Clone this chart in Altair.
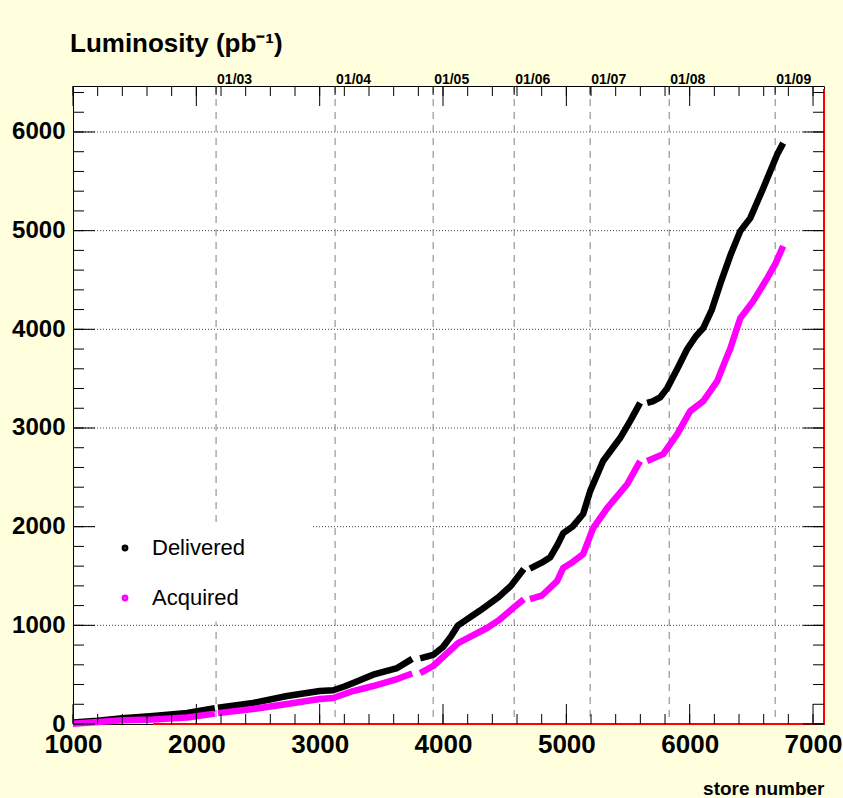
import altair as alt
import pandas as pd

# ---------------- data ----------------
deliv_store = [1000, 1200, 1400, 1650, 1925, 2150,
               2175, 2460, 2736, 3000, 3110, 3200, 3271, 3433, 3628, 3750,
               3815, 3920, 4000, 4060, 4122, 4300, 4450, 4550, 4655,
               4705, 4800, 4870, 4930, 4975, 5050, 5136, 5193, 5298, 5436, 5517, 5598,
               5655, 5700, 5760, 5818, 5900, 5980, 6050, 6110, 6180, 6247, 6330,
               6410, 6491, 6596, 6653, 6710, 6758]
deliv_lumi = [15, 32, 58, 82, 112, 160,
              165, 213, 284, 334, 342, 380, 415, 500, 567, 660,
              665, 700, 780, 880, 1000, 1150, 1285, 1400, 1570,
              1575, 1635, 1690, 1820, 1935, 2000, 2128, 2360, 2665, 2898, 3070, 3255,
              3255, 3270, 3310, 3404, 3600, 3800, 3930, 4012, 4200, 4458, 4750,
              4995, 5127, 5430, 5603, 5775, 5887]

acq_store = [1000, 1200, 1400, 1650, 1925, 2150,
             2175, 2460, 2736, 3000, 3109, 3271, 3433, 3628, 3750,
             3815, 3920, 4122, 4357, 4450, 4569, 4655,
             4705, 4800, 4925, 4974, 5050, 5136, 5217, 5331, 5493, 5598,
             5655, 5785, 5899, 6004, 6110, 6223, 6288, 6328, 6410, 6515, 6629,
             6693, 6758]
acq_lumi = [3, 20, 38, 45, 65, 105,
            110, 152, 203, 253, 263, 334, 385, 456, 512,
            515, 588, 820, 973, 1050, 1175, 1265,
            1265, 1300, 1449, 1580, 1640, 1722, 1986, 2188, 2430, 2665,
            2665, 2735, 2938, 3171, 3272, 3475, 3680, 3800, 4113, 4286, 4519,
            4660, 4843]

# shutdown gaps (store numbers where the curves break)
gaps = [2160, 3780, 4680, 5625]

date_labels = ["01/03", "01/04", "01/05", "01/06", "01/07", "01/08", "01/09"]
date_stores = [2160, 3125, 3920, 4577, 5193, 5834, 6693]

x_major = [1000, 2000, 3000, 4000, 5000, 6000, 7000]
x_minor = list(range(1000, 7001, 200))
y_major = [0, 1000, 2000, 3000, 4000, 5000, 6000]
y_minor = list(range(0, 6401, 200))
grid_y = [1000, 2000, 3000, 4000, 5000, 6000]

legend_box = {"x0": 1195, "x1": 2930, "y0": 1040, "y1": 2020}

# ---------------- frames ----------------
def seg(s):
    return sum(1 for g in gaps if g < s)

df = pd.concat([
    pd.DataFrame({"store": deliv_store, "lumi": deliv_lumi, "series": "Delivered",
                  "seg": [seg(s) for s in deliv_store]}),
    pd.DataFrame({"store": acq_store, "lumi": acq_lumi, "series": "Acquired",
                  "seg": [seg(s) for s in acq_store]}),
])

W, H = 751, 638
SANS = "'Liberation Sans', Arial, Helvetica, sans-serif"

xs = alt.Scale(domain=[1000, 7089], nice=False, zero=False)
ys = alt.Scale(domain=[0, 6466], nice=False, zero=False)

x_axis = alt.Axis(values=x_major, format="d", title="store number", grid=False,
                  domain=False, ticks=False, tickSize=0, labelPadding=7,
                  labelFont=SANS, labelFontSize=26, labelFontWeight="bold",
                  labelColor="black", labelFlush=False, labelOverlap=False,
                  titleFont=SANS, titleFontSize=19, titleFontWeight="bold",
                  titleColor="black", titleAnchor="end", titleAlign="right",
                  titleX=W, titlePadding=22)
y_axis = alt.Axis(values=y_major, format="d", title=None, grid=False,
                  domain=False, ticks=False, tickSize=0, labelPadding=8,
                  labelFont=SANS, labelFontSize=24, labelFontWeight="bold",
                  labelColor="black", labelOverlap=False, labelFlush=False)

color = alt.Color("series:N",
                  scale=alt.Scale(domain=["Delivered", "Acquired"],
                                  range=["#000000", "#ff00ff"]),
                  legend=alt.Legend(title=None, orient="none", legendX=41, legendY=451,
                                    direction="vertical", symbolType="circle",
                                    symbolSize=8, symbolStrokeWidth=4,
                                    labelFont=SANS, labelFontSize=22,
                                    labelColor="black", labelOffset=16,
                                    rowPadding=28, padding=0))

def X(field):
    return alt.X(field, scale=xs, axis=x_axis)

def Y(field):
    return alt.Y(field, scale=ys, axis=y_axis)

hgrid = alt.Chart(pd.DataFrame({"v": grid_y})).mark_rule(
    color="#444444", strokeWidth=1, strokeDash=[1, 2]).encode(
    y=Y("v:Q"), x=alt.value(0), x2=alt.value(W))

vdates = alt.Chart(pd.DataFrame({"v": date_stores})).mark_rule(
    color="#808080", strokeWidth=1, strokeDash=[7, 6]).encode(
    x=X("v:Q"), y=alt.value(0), y2=alt.value(H))

box = alt.Chart(pd.DataFrame([legend_box])).mark_rect(color="white").encode(
    x=X("x0:Q"), x2="x1:Q", y=Y("y0:Q"), y2="y1:Q")

def curve(name):
    return alt.Chart(df[df.series == name]).mark_line(
        strokeWidth=6.5, strokeJoin="round", strokeCap="butt").encode(
        x=X("store:Q"), y=Y("lumi:Q"),
        color=color, detail="seg:N", order="store:Q")

deliv = curve("Delivered")
acq = curve("Acquired")

red_bottom = alt.Chart(pd.DataFrame({"v": [1650]})).mark_rule(
    color="#ff0000", strokeWidth=2).encode(
    x=X("v:Q"), x2=alt.value(W), y=alt.value(H))
red_right = alt.Chart(pd.DataFrame({"v": [0]})).mark_rule(
    color="#ff0000", strokeWidth=2).encode(
    x=alt.value(W), y=alt.value(3), y2=alt.value(H))

def xt(vals, y0, y1):
    return alt.Chart(pd.DataFrame({"v": vals})).mark_rule(
        color="black", strokeWidth=1).encode(
        x=X("v:Q"), y=alt.value(y0), y2=alt.value(y1))

def yt(vals, x0, x1):
    return alt.Chart(pd.DataFrame({"v": vals})).mark_rule(
        color="black", strokeWidth=1).encode(
        y=Y("v:Q"), x=alt.value(x0), x2=alt.value(x1))

ticks = [
    xt(x_minor, H, H - 10), xt(x_major, H, H - 20),
    xt(x_minor, 0, 10), xt(x_major, 0, 20),
    yt(y_minor, 0, 11), yt(y_major, 0, 22),
    yt(y_minor, W, W - 11), yt(y_major, W, W - 21),
    xt(date_stores, 0, 9),
]

dlab = alt.Chart(pd.DataFrame({"v": date_stores, "t": date_labels})).mark_text(
    align="left", baseline="alphabetic", dx=1, font=SANS, fontSize=14,
    fontWeight="bold", color="black").encode(
    x=X("v:Q"), y=alt.value(-2), text="t:N")

chart = alt.layer(hgrid, vdates, box, deliv, acq, red_bottom, red_right,
                  *ticks, dlab).properties(
    width=W, height=H,
    title=alt.TitleParams(text="Luminosity (pb⁻¹)", anchor="start", frame="group",
                          font=SANS, fontSize=26, fontWeight="bold", color="black",
                          baseline="alphabetic", offset=-5, dx=-3),
    autosize=alt.AutoSizeParams(type="none"),
    padding={"left": 73, "top": 86, "right": 19, "bottom": 74},
    background="#ffffdd",
).configure_view(fill="white", stroke="black", strokeWidth=1)

chart.save("out.html", embed_options={"renderer": "svg", "actions": False})
